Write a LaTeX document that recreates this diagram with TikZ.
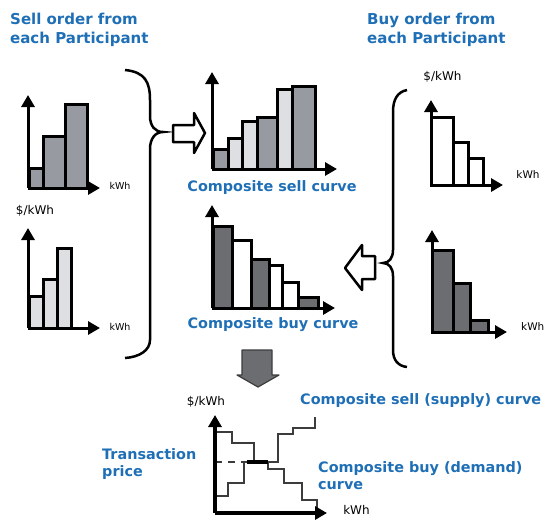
\documentclass[tikz,border=0pt]{standalone}
\usepackage{fontspec}
\setmainfont{DejaVu Sans}
\usetikzlibrary{positioning,arrows.meta}
\definecolor{titleblue}{RGB}{31,111,182}
\definecolor{midgray}{RGB}{152,154,162}
\definecolor{palegray}{RGB}{222,223,226}
\definecolor{deepgray}{RGB}{108,109,113}
\definecolor{curvegray}{RGB}{60,60,60}

\begin{document}
\begin{tikzpicture}
    [x=1pt,y=-1pt,
     bar/.style={draw, line width=3pt},
     axis/.style={line width=3pt, -{Triangle[width=13pt,length=12pt]}},
     title/.style={text=titleblue, font=\bfseries\fontsize{15}{19}\selectfont, align=left, anchor=west, inner sep=0pt},
     caption/.style={text=titleblue, font=\bfseries\fontsize{14.4}{17.5}\selectfont, align=left, inner sep=0pt},
     unit/.style={font=\fontsize{12}{14}\selectfont, inner sep=0pt},
     hollow/.style={draw, fill=white, line width=2.5pt, line join=round},
     brace/.style={line width=2.5pt}]
  \useasboundingbox (0,0) rectangle (545,520);

  % sell orders, left
  \foreach \xl/\xr/\h/\col in {29/43/168/midgray, 43/65/136/midgray, 65/87/104/midgray}
    \draw[bar, fill=\col] (\xl,188) rectangle (\xr,\h);
  \draw[axis] (28,188) -- (28,95);
  \draw[axis] (28,188) -- (100,188);
  \foreach \xl/\xr/\h/\col in {29/43/296/palegray, 43/57/279/palegray, 57/71/248/palegray}
    \draw[bar, fill=\col] (\xl,328) rectangle (\xr,\h);
  \draw[axis] (28,328) -- (28,228);
  \draw[axis] (28,328) -- (100,328);
  \node[unit, font=\fontsize{9.5}{11}\selectfont] (kwhA) at (120,186) {kWh};
  \node[unit, font=\fontsize{9.5}{11}\selectfont] (kwhB) at (120,327) {kWh};
  \node[unit] (priceA) at (35,211) {\$/kWh};
  \draw[brace] (125,70) .. controls (145,72) and (150,82) .. (150,100) -- (150,116)
    .. controls (150,126) and (155,132) .. (163,132) .. controls (155,132) and (150,139) .. (150,149)
    -- (150,340) .. controls (150,350) and (140,357) .. (125,358);
  \draw[hollow] (173,125) -- (194,125) -- (194,113) -- (205,133) -- (194,153) -- (194,142) -- (173,142) -- cycle;

  % composite curves, middle
  \foreach \xl/\xr/\h/\col in {213/228/149/midgray, 228/242/138/palegray, 242/257/121/palegray, 257/277/117/midgray, 277/292/89/palegray, 292/315/86/midgray}
    \draw[bar, fill=\col] (\xl,169) rectangle (\xr,\h);
  \draw[axis] (212,169) -- (212,72);
  \draw[axis] (212,169) -- (337,169);
  \foreach \xl/\xr/\h/\col in {213/232/226/deepgray, 232/251/240/white, 251/269/259/deepgray, 269/282/265/white, 282/298/282/white, 298/318/297/deepgray}
    \draw[bar, fill=\col] (\xl,308) rectangle (\xr,\h);
  \draw[axis] (212,308) -- (212,205);
  \draw[axis] (212,308) -- (335,308);
  \node[caption] (sellCurve) at (272,188) {Composite sell curve};
  \node[caption] (buyCurve) at (273,325) {Composite buy curve};

  % buy orders, right
  \foreach \xl/\xr/\h/\col in {431/453/117/white, 453/468/142/white, 468/483/158/white}
    \draw[bar, fill=\col] (\xl,185) rectangle (\xr,\h);
  \draw[axis] (431,185) -- (431,100);
  \draw[axis] (431,185) -- (503,185);
  \foreach \xl/\xr/\h/\col in {432/453/250/deepgray, 453/470/283/deepgray, 470/488/320/deepgray}
    \draw[bar, fill=\col] (\xl,332) rectangle (\xr,\h);
  \draw[axis] (432,332) -- (432,230);
  \draw[axis] (432,332) -- (507,332);
  \node[unit] (priceB) at (442.5,77) {\$/kWh};
  \node[unit, font=\fontsize{10.5}{12}\selectfont] (kwhC) at (528,175) {kWh};
  \node[unit, font=\fontsize{10.5}{12}\selectfont, anchor=west] (kwhD) at (521,327) {kWh};
  \draw[brace] (407,90) .. controls (397,92) and (393,100) .. (393,112) -- (393,250)
    .. controls (393,258) and (389,263) .. (383,263) .. controls (389,263) and (393,268) .. (393,276)
    -- (393,350) .. controls (393,360) and (398,366) .. (407,367);
  \draw[hollow] (375,256) -- (362,256) -- (362,245) -- (345,268) -- (362,290) -- (362,279) -- (375,279) -- cycle;

  % titles
  \node[title] (sellTitle) at (10,29.5) {Sell order from\\each Participant};
  \node[title] (buyTitle) at (367,29.5) {Buy order from\\each Participant};

  % matching, bottom
  \draw[draw=curvegray, fill=deepgray, line width=1.2pt, line join=round] (242,350) -- (272,350) -- (272,375) -- (279,375) -- (258,387) -- (237,375) -- (242,375) -- cycle;
  \draw[curvegray, line width=2pt] (215,432) -- (232,432) -- (232,443) -- (254,443) -- (254,462) -- (268,462) -- (268,469) -- (284,469) -- (284,483) -- (302,483) -- (302,500) -- (317,500) -- (317,513);
  \draw[curvegray, line width=2pt] (215,496) -- (228,496) -- (228,483) -- (244,483) -- (244,462) -- (278,462) -- (278,434) -- (293,434) -- (293,428) -- (315,428) -- (315,417);
  \draw[curvegray, line width=2pt, dash pattern=on 7pt off 6pt] (215,462) -- (247,462);
  \draw[line width=4.5pt] (247,462) -- (268,462);
  \draw[axis, line width=3.5pt] (215,513) -- (215,415);
  \draw[axis, line width=3.5pt] (215,513) -- (327,513);
  \node[unit] (priceC) at (206,402) {\$/kWh};
  \node[unit] (kwhE) at (356.5,510) {kWh};
  \node[caption, anchor=west] (supplyCurve) at (300,401) {Composite sell (supply) curve};
  \node[caption, anchor=west] (demandCurve) at (318,475.5) {Composite buy (demand)\\curve};
  \node[caption, anchor=west] (tradePrice) at (102,464) {Transaction\\price};
\end{tikzpicture}
\end{document}
